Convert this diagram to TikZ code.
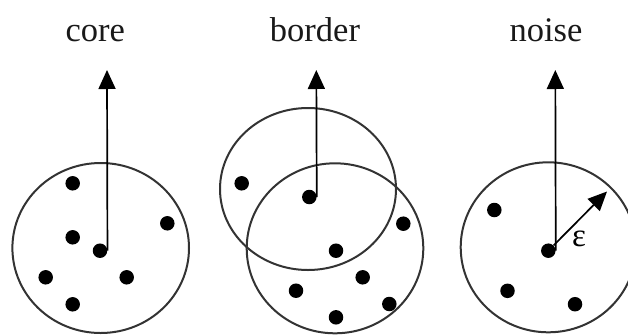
\documentclass[tikz,border=0pt]{standalone}
\usepackage{fontspec}
\setmainfont{Liberation Serif}
\usetikzlibrary{arrows.meta}
\begin{document}
\begin{tikzpicture}[x=1pt,y=-1pt,
  dot/.style={circle,fill=black,inner sep=0pt,minimum size=14.5pt},
  ring/.style={draw=black!80,line width=2pt},
  arr/.style={line width=1.7pt,-{Triangle[length=19pt,width=17pt]}},
  lbl/.style={anchor=base,font=\fontsize{34.5}{40}\selectfont,text=black!90}]
\clip (0,0) rectangle (628,335);
% labels
\node[lbl] (tcore) at (95.3,41) {core};
\node[lbl] (tborder) at (315,41.5) {border};
\node[lbl] (tnoise) at (546,41.5) {noise};
% core
\draw[ring] (100.7,248) ellipse [x radius=88.3pt, y radius=85pt];
\node[dot] (c0) at (100,250.7) {};
\node[dot] (c1) at (72.7,183.3) {};
\node[dot] (c2) at (72.7,237.3) {};
\node[dot] (c3) at (167.3,223.3) {};
\node[dot] (c4) at (45.7,277.3) {};
\node[dot] (c5) at (126.7,277.3) {};
\node[dot] (c6) at (72.7,304.3) {};
\coordinate (ctip) at (107,70);
\draw[arr] (c0.east) -- (ctip);
% border
\draw[ring] (308,189) ellipse [x radius=88pt, y radius=81pt];
\draw[ring] (335,248.3) ellipse [x radius=88.3pt, y radius=85pt];
\node[dot] (b0) at (309.3,197) {};
\node[dot] (b1) at (241.7,183.3) {};
\node[dot] (b2) at (403.3,223.7) {};
\node[dot] (b3) at (336,250.7) {};
\node[dot] (b4) at (362.7,277.3) {};
\node[dot] (b5) at (296,290.7) {};
\node[dot] (b6) at (389.3,304) {};
\node[dot] (b7) at (336,317.3) {};
\coordinate (btip) at (316.3,70);
\draw[arr] (b0.east) -- (btip);
% noise
\draw[ring] (548.3,247.3) ellipse [x radius=87.6pt, y radius=85pt];
\node[dot] (n0) at (548.3,250.7) {};
\node[dot] (n1) at (494.3,210) {};
\node[dot] (n2) at (507.5,290.8) {};
\node[dot] (n3) at (575,304.2) {};
\coordinate (ntip) at (555.3,70);
\draw[arr] (n0.east) -- (ntip);
\coordinate (etip) at (607,191.5);
\draw[arr] (n0.45) -- (etip);
\node[font=\fontsize{33}{40}\selectfont] (eps) at (579,239) {ε};
\end{tikzpicture}
\end{document}
